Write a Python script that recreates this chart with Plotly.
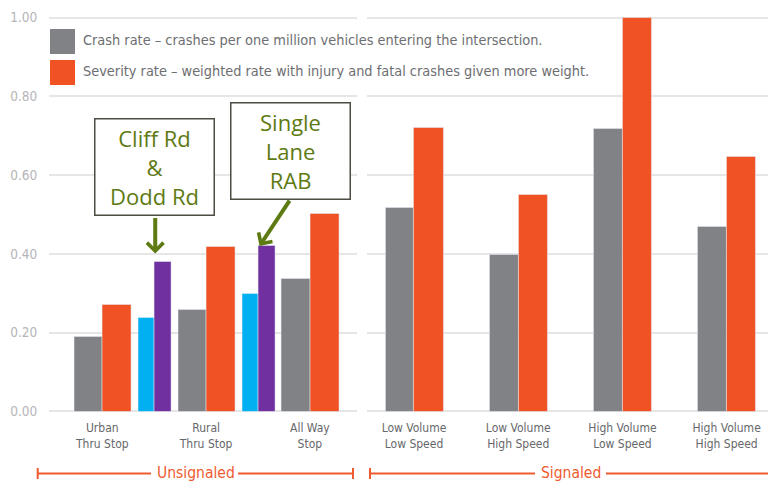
import plotly.graph_objects as go

W, H = 768, 483

# ---------------- data ----------------
unsig_cats = ["Urban<br>Thru Stop", "Rural<br>Thru Stop", "All Way<br>Stop"]
unsig_crash = [0.19, 0.257, 0.336]
unsig_sev = [0.272, 0.417, 0.501]

study_cats = ["Cliff Rd &amp; Dodd Rd", "Single Lane RAB"]
study_crash = [0.238, 0.298]
study_sev = [0.379, 0.420]

sig_cats = ["Low Volume<br>Low Speed", "Low Volume<br>High Speed",
            "High Volume<br>Low Speed", "High Volume<br>High Speed"]
sig_crash = [0.516, 0.397, 0.717, 0.468]
sig_sev = [0.720, 0.551, 1.000, 0.646]

left_order = [unsig_cats[0], study_cats[0], unsig_cats[1], study_cats[1], unsig_cats[2]]
y_ticks = [0, 0.2, 0.4, 0.6, 0.8, 1.0]
y_ticktext = ["0.00", "0.20", "0.40", "0.60", "0.80", "1.00"]

legend_labels = [
    "Crash rate – crashes per one million vehicles entering the intersection.",
    "Severity rate – weighted rate with injury and fatal crashes given more weight.",
]
group_labels = ["Unsignaled", "Signaled"]

# ---------------- styles ----------------
GRAY = "#818286"
ORANGE = "#f05224"
CYAN = "#00b0f0"
PURPLE = "#7030a0"
OLIVE = "#5e7a12"
BRACKET = "#f05a30"
GRID = "#e6e6e6"
FONT = "DejaVu Sans Condensed, Liberation Sans Narrow, Roboto, sans-serif"


def px_x(p):
    return p / W


def px_y(p):
    return 1 - p / H


fig = go.Figure()

fig.add_trace(go.Bar(x=unsig_cats, y=unsig_crash, marker_color=GRAY, width=0.545,
                     offset=-0.545, xaxis="x", yaxis="y", name=legend_labels[0],
                     showlegend=False))
fig.add_trace(go.Bar(x=unsig_cats, y=unsig_sev, marker_color=ORANGE, width=0.56,
                     offset=0, xaxis="x", yaxis="y", name=legend_labels[1],
                     showlegend=False))
fig.add_trace(go.Bar(x=study_cats, y=study_crash, marker_color=CYAN, width=0.31,
                     offset=-0.31, xaxis="x", yaxis="y", name="Crash rate (study)",
                     showlegend=False))
fig.add_trace(go.Bar(x=study_cats, y=study_sev, marker_color=PURPLE, width=0.335,
                     offset=0, xaxis="x", yaxis="y", name="Severity rate (study)",
                     showlegend=False))
fig.add_trace(go.Bar(x=sig_cats, y=sig_crash, marker_color=GRAY, width=0.273,
                     offset=-0.273, xaxis="x2", yaxis="y2", name=legend_labels[0],
                     showlegend=False))
fig.add_trace(go.Bar(x=sig_cats, y=sig_sev, marker_color=ORANGE, width=0.283,
                     offset=0, xaxis="x2", yaxis="y2", name=legend_labels[1],
                     showlegend=False))

y_dom = [px_y(411.4), px_y(411.4 - 1.01 * 393.7)]

common_x = dict(type="category", showgrid=False, zeroline=False, showline=False,
                ticks="", tickfont=dict(family=FONT, size=12, color="#66676a"),
                ticklabelstandoff=8, fixedrange=True, automargin=False)

fig.update_layout(
    width=W, height=H,
    margin=dict(l=0, r=0, t=0, b=0, pad=0, autoexpand=False),
    paper_bgcolor="white", plot_bgcolor="white",
    barmode="overlay",
    bargap=0,
    xaxis=dict(domain=[px_x(49.3), px_x(356.7)], anchor="y",
               categoryorder="array", categoryarray=left_order,
               range=[-1.021, 4.902], tickvals=unsig_cats, ticktext=unsig_cats,
               **common_x),
    xaxis2=dict(domain=[px_x(366.7), 1.0], anchor="y2",
                categoryorder="array", categoryarray=sig_cats,
                range=[-0.454, 3.397], tickvals=sig_cats, ticktext=sig_cats,
                **common_x),
    yaxis=dict(domain=y_dom, range=[0, 1.01], tickvals=y_ticks, ticktext=y_ticktext,
               showgrid=True, gridcolor=GRID, gridwidth=2,
               zeroline=True, zerolinecolor=GRID, zerolinewidth=2,
               showline=False, ticks="", ticklabelstandoff=11, automargin=False,
               tickfont=dict(family=FONT, size=13.5, color="#b5b5b8"), fixedrange=True),
    yaxis2=dict(domain=y_dom, range=[0, 1.01], matches="y", anchor="x2",
                tickvals=y_ticks, showticklabels=False, automargin=False,
                showgrid=True, gridcolor=GRID, gridwidth=2,
                zeroline=True, zerolinecolor=GRID, zerolinewidth=2,
                showline=False, ticks="", fixedrange=True),
)

shapes = []
annotations = []

# legend swatches + text
for i, (col, ycen) in enumerate([(GRAY, 41.5), (ORANGE, 72.5)]):
    shapes.append(dict(type="rect", xref="paper", yref="paper",
                       x0=px_x(50), x1=px_x(75), y0=px_y(ycen - 12.5), y1=px_y(ycen + 12.5),
                       fillcolor=col, line=dict(width=0)))
    annotations.append(dict(xref="paper", yref="paper", x=px_x(81), y=px_y(ycen - 1.5),
                            xanchor="left", yanchor="middle", showarrow=False,
                            text=legend_labels[i],
                            font=dict(family=FONT, size=14.4, color="#6d6e71")))

# callout boxes
box_font = dict(family="Open Sans, Noto Sans, sans-serif", size=22, color=OLIVE)
annotations.append(dict(xref="x", yref="y", x=1.0, y=0.621,
                        text="Cliff Rd<br>&amp;<br>Dodd Rd", showarrow=False,
                        font=box_font, width=116, height=93, borderpad=1,
                        bordercolor="#4e4b42", borderwidth=1.5, bgcolor="white",
                        xanchor="center", yanchor="middle"))
annotations.append(dict(xref="x", yref="y", x=3.622, y=0.661,
                        text="Single<br>Lane<br>RAB", showarrow=False,
                        font=box_font, width=116, height=93, borderpad=1,
                        bordercolor="#4e4b42", borderwidth=1.5, bgcolor="white",
                        xanchor="center", yanchor="middle"))
# arrows
annotations.append(dict(xref="x", yref="y", x=1.02, y=0.401, ax=0, ay=-37,
                        text="", showarrow=True, arrowhead=4, arrowsize=0.8,
                        arrowwidth=4, arrowcolor=OLIVE, standoff=0))
annotations.append(dict(xref="x", yref="y", x=3.03, y=0.42, ax=31, ay=-47,
                        text="", showarrow=True, arrowhead=4, arrowsize=0.8,
                        arrowwidth=4, arrowcolor=OLIVE, standoff=0))

# group brackets
line_y = 473.5
segs = [(37.7, 151), (238, 353), (370, 535), (606, 770)]
for a, b in segs:
    shapes.append(dict(type="line", xref="paper", yref="paper",
                       x0=px_x(a), x1=px_x(b), y0=px_y(line_y), y1=px_y(line_y),
                       line=dict(color=BRACKET, width=2)))
for t in [37.7, 353, 370]:
    shapes.append(dict(type="line", xref="paper", yref="paper",
                       x0=px_x(t), x1=px_x(t), y0=px_y(468), y1=px_y(479),
                       line=dict(color=BRACKET, width=2)))
for lab, cx in zip(group_labels, [195.5, 571]):
    annotations.append(dict(xref="paper", yref="paper", x=px_x(cx), y=px_y(473),
                            xanchor="center", yanchor="middle", showarrow=False,
                            text=lab, font=dict(family=FONT, size=15.5, color=BRACKET)))

fig.update_layout(shapes=shapes, annotations=annotations)

fig.write_html("out.html", config={"displayModeBar": False},
               post_script="document.body.style.margin='0';"
                           "document.body.style.overflow='hidden';")
